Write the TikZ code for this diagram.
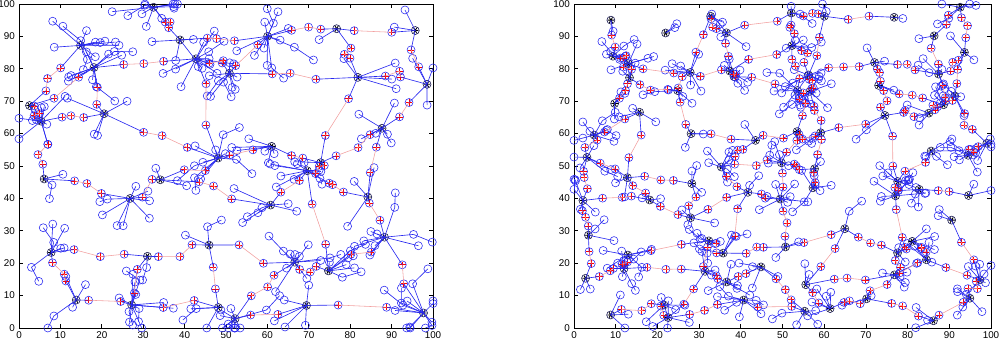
\documentclass[tikz,border=0pt]{standalone}
\usepackage{fontspec}
\setmainfont{Liberation Sans}
\usetikzlibrary{calc}
\definecolor{mblue}{HTML}{2828F0}
\definecolor{gpink}{HTML}{F2A0A0}
\tikzset{
  every picture/.style={font=\fontsize{7}{8}\selectfont, line width=0.5pt},
  member/.style={circle, draw=mblue, line width=0.4pt, minimum size=0.2cm, inner sep=0pt},
  head/.style={member, draw=black!70!mblue, path picture={
      \draw[black, line width=0.6pt] (path picture bounding box.center) +(0:0.08cm) -- +(180:0.08cm)
        +(60:0.08cm) -- +(240:0.08cm) +(120:0.08cm) -- +(300:0.08cm);}},
  gate/.style={member, path picture={
      \draw[red, line width=0.45pt] (path picture bounding box.center) +(0:0.08cm) -- +(180:0.08cm)
        +(90:0.08cm) -- +(270:0.08cm);}},
  link/.style={draw=mblue, line width=0.45pt},
  glink/.style={draw=gpink, line width=0.4pt},
  tick/.style={inner sep=1pt},
}
\begin{document}
\begin{tikzpicture}
  \useasboundingbox (0,0) rectangle (25,8.5);
  \pgfmathsetseed{11}
  \foreach \p/\xo/\xu/\n/\mm in {L/0.475/0.1035/6/10.5, R/14.35/0.10425/9/6.5} {
  \begin{scope}[shift={(\xo,0.3)}, x=\xu cm, y=0.081cm]
    \pgfmathsetmacro\cs{100/\n}
    \pgfmathsetmacro\rmax{\cs*0.62}
    % frame and ticks
    \draw (0,0) rectangle (100,100);
    \foreach \t in {0,10,...,100} {
      \draw (\t,0) -- ++(0,1.2) (\t,100) -- ++(0,-1.2) (0,\t) -- ++(1,0) (100,\t) -- ++(-1,0);
      \node[tick, anchor=north] (\p-xl-\t) at (\t,-0.6) {\t};
      \node[tick, anchor=east] (\p-yl-\t) at (-0.6,\t) {\t};
    }
    % cluster heads and their members
    \foreach \c in {1,...,\n} { \foreach \r in {1,...,\n} {
      \pgfmathsetmacro\hx{min(99,max(1,(\c-0.5)*\cs+0.5*\cs*rand))}
      \pgfmathsetmacro\hy{min(99,max(1,(\r-0.5)*\cs+0.5*\cs*rand))}
      \node[head] (\p-\c-\r) at (\hx,\hy) {};
      \pgfmathtruncatemacro\nm{1+int(rnd*\mm)}
      \foreach \j in {1,...,\nm} {
        \pgfmathsetmacro\aa{rnd*360}
        \pgfmathsetmacro\rr{0.2*\rmax+rnd*0.8*\rmax}
        \pgfmathsetmacro\mx{min(100,max(0,\hx+\rr*cos(\aa)))}
        \pgfmathsetmacro\my{min(100,max(0,\hy+\rr*sin(\aa)))}
        \node[member] (\p-\c-\r-\j) at (\mx,\my) {};
        \draw[link] (\p-\c-\r.center) -- (\p-\c-\r-\j.center);
        \pgfmathsetmacro\q{rnd}
        \ifdim\q pt<0.2pt
          \pgfmathsetmacro\kx{min(100,max(0,\mx+0.45*\rmax*cos(\aa+70*rand)))}
          \pgfmathsetmacro\ky{min(100,max(0,\my+0.45*\rmax*sin(\aa+70*rand)))}
          \node[member] (\p-\c-\r-\j-k) at (\kx,\ky) {};
          \draw[link] (\p-\c-\r-\j.center) -- (\p-\c-\r-\j-k.center);
        \fi
      }
    }}
    % gateways between neighbouring clusters
    \foreach \c in {1,...,\n} { \foreach \r in {1,...,\n} {
      \pgfmathtruncatemacro\ce{\c+1}
      \pgfmathtruncatemacro\rn{\r+1}
      \foreach \d/\tc/\tr in {e/\ce/\r, n/\c/\rn} {
        \pgfmathsetmacro\q{rnd}
        \pgfmathtruncatemacro\ok{(\tc<=\n)&&(\tr<=\n)&&(\q<0.75)}
        \ifnum\ok=1
          \pgfmathsetmacro\jx{0.12*\cs*rand}
          \pgfmathsetmacro\jy{0.12*\cs*rand}
          \pgfmathsetmacro\kx{0.12*\cs*rand}
          \pgfmathsetmacro\ky{0.12*\cs*rand}
          \node[gate] (\p-\c-\r-\d1) at ($(\p-\c-\r)!0.3!(\p-\tc-\tr)+(\jx,\jy)$) {};
          \node[gate] (\p-\c-\r-\d2) at ($(\p-\c-\r)!0.7!(\p-\tc-\tr)+(\kx,\ky)$) {};
          \draw[link] (\p-\c-\r.center) -- (\p-\c-\r-\d1.center);
          \draw[link] (\p-\c-\r-\d2.center) -- (\p-\tc-\tr.center);
          \pgfmathsetmacro\q{rnd}
          \ifdim\q pt<0.45pt
            \node[gate] (\p-\c-\r-\d m) at ($(\p-\c-\r-\d1)!0.5!(\p-\c-\r-\d2)+(\ky,\jx)$) {};
            \draw[glink] (\p-\c-\r-\d1.center) -- (\p-\c-\r-\d m.center) -- (\p-\c-\r-\d2.center);
          \else
            \draw[glink] (\p-\c-\r-\d1.center) -- (\p-\c-\r-\d2.center);
          \fi
        \fi
      }
    }}
  \end{scope}
  }
\end{tikzpicture}
\end{document}
